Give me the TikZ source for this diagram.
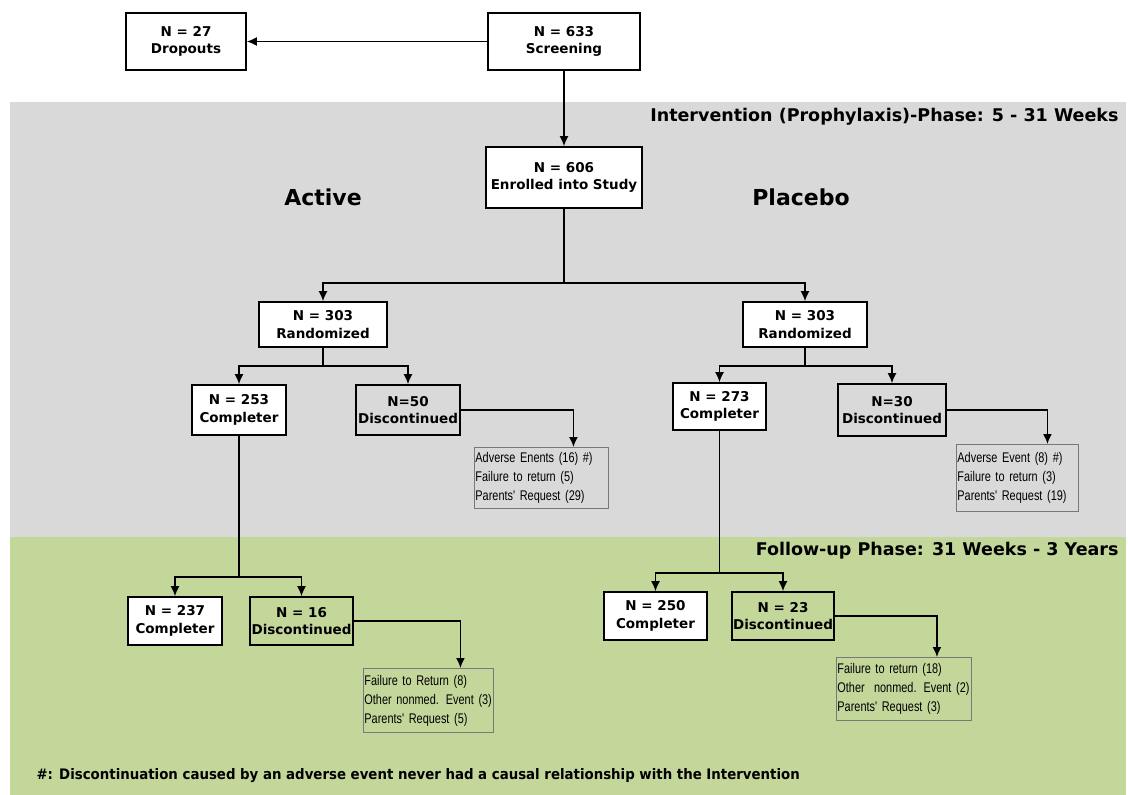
\documentclass[tikz,border=0pt]{standalone}
\usepackage{fontspec}
\setmainfont{DejaVu Sans}
\newfontfamily\narrowfont[FakeStretch=0.78]{Liberation Sans}
\newfontfamily\notefont[FakeStretch=0.92]{DejaVu Sans}
\usetikzlibrary{positioning,calc,arrows.meta}
\definecolor{phaseI}{RGB}{217,217,217}
\definecolor{phaseF}{RGB}{196,215,155}
\definecolor{whyL}{RGB}{120,120,120}

\begin{document}
\begin{tikzpicture}[
  x=1pt, y=-1pt,
  font=\fontsize{13.5}{17.5}\selectfont\bfseries,
  box/.style={draw, line width=1.6pt, align=center, inner sep=1pt, fill=white},
  quit/.style={box, fill=none},
  why/.style={draw=whyL, line width=0.9pt, align=left, anchor=north west, inner xsep=1pt, inner ysep=2pt, font=\narrowfont\fontsize{14}{19}\selectfont},
  flow/.style={-{Latex[length=10pt,width=9pt]}, line width=1.6pt},
  link/.style={line width=1.6pt},
  phase/.style={anchor=east, font=\fontsize{17.5}{20}\selectfont\bfseries},
  arm/.style={font=\fontsize{22}{26}\selectfont\bfseries},
]
\useasboundingbox (0,0) rectangle (1128,795);

% ---- phase bands ----
\fill[phaseI] (10,102) rectangle (1126,537);
\fill[phaseF] (10,537) rectangle (1126,795);
\node[phase] (hdI) at (1122,117) {Intervention (Prophylaxis)-Phase: 5 - 31 Weeks};
\node[phase] (hdF) at (1122,551) {Follow-up Phase: 31 Weeks - 3 Years};
\node[arm] (armA) at (323,197) {Active};
\node[arm] (armP) at (801,197) {Placebo};

% ---- screening ----
\node[box, minimum width=152, minimum height=57] (scr)  at (564,41.5) {N = 633\\Screening};
\node[box, minimum width=120, minimum height=57] (drop) at (186,41.5) {N = 27\\Dropouts};
\node[box, minimum width=156, minimum height=61] (enr)  at (564,177.5) {N = 606\\Enrolled into Study};
\draw[flow] (scr.west) -- (drop.east);
\draw[flow] (scr.south) -- (enr.north);

% ---- randomization ----
\coordinate (splitE) at (564,283);
\node[box, minimum width=128, minimum height=45] (randA) at (323,324.5) {N = 303\\Randomized};
\node[box, minimum width=124, minimum height=45] (randP) at (805,324.5) {N = 303\\Randomized};
\draw[link] (enr.south) -- (splitE);
\draw[flow] (splitE) -| (randA.north);
\draw[flow] (splitE) -| (randP.north);

% ---- intervention phase: active ----
\coordinate (splitA) at (323,366);
\node[box,  minimum width=94,  minimum height=50] (compA) at (239,410) {N = 253\\Completer};
\node[quit, minimum width=104, minimum height=50] (discA) at (408,410) {N=50\\Discontinued};
\node[why, text width=132, minimum height=61] (whyA) at (474,447)
  {Adverse Enents (16) \#)\\Failure to return (5)\\Parents' Request (29)};
\draw[link] (randA.south) -- (splitA);
\draw[flow] (splitA) -| (compA.north);
\draw[flow] (splitA) -| (discA.north);
\draw[flow] (discA.east) -| ([xshift=32pt]whyA.north);

% ---- intervention phase: placebo ----
\coordinate (splitP) at (805,366);
\node[box,  minimum width=93,  minimum height=47] (compP) at (719.5,406.5) {N = 273\\Completer};
\node[quit, minimum width=108, minimum height=52] (discP) at (892,410) {N=30\\Discontinued};
\node[why, text width=120, minimum height=67] (whyP) at (956,444)
  {Adverse Event (8) \#)\\Failure to return (3)\\Parents' Request (19)};
\draw[link] (randP.south) -- (splitP);
\draw[flow] (splitP) -| (compP.north);
\draw[flow] (splitP) -| (discP.north);
\draw[flow] (discP.east) -| ([xshift=30pt]whyP.north);

% ---- follow-up phase: active ----
\coordinate (splitA2) at (239,577);
\node[box,  minimum width=94,  minimum height=48] (compA2) at (175,621) {N = 237\\Completer};
\node[quit, minimum width=103, minimum height=48] (discA2) at (301.5,621) {N = 16\\Discontinued};
\node[why, text width=128, minimum height=64] (whyA2) at (363,668)
  {Failure to Return (8)\\Other nonmed. Event (3)\\Parents' Request (5)};
\draw[link] (compA.south) -- (splitA2);
\draw[flow] (splitA2) -| (compA2.north);
\draw[flow] (splitA2) -| (discA2.north);
\draw[flow] (discA2.east) -| ([xshift=32pt]whyA2.north);

% ---- follow-up phase: placebo ----
\coordinate (splitP2) at (719.5,573);
\node[box,  minimum width=103, minimum height=48] (compP2) at (655.5,616) {N = 250\\Completer};
\node[quit, minimum width=102, minimum height=48] (discP2) at (783,616) {N = 23\\Discontinued};
\node[why, text width=133, minimum height=63] (whyP2) at (836,657)
  {Failure to return (18)\\Other\ \ nonmed. Event (2)\\Parents' Request (3)};
\draw[link] (compP.south) -- (splitP2);
\draw[flow] (splitP2) -| (compP2.north);
\draw[flow] (splitP2) -| (discP2.north);
\draw[flow] (discP2.east) -| ([xshift=33pt]whyP2.north);

% ---- footnote ----
\node[anchor=west, font=\notefont\bfseries\fontsize{14.5}{17}\selectfont] (note) at (33,776)
  {\#: Discontinuation caused by an adverse event never had a causal relationship with the Intervention};

\end{tikzpicture}
\end{document}
